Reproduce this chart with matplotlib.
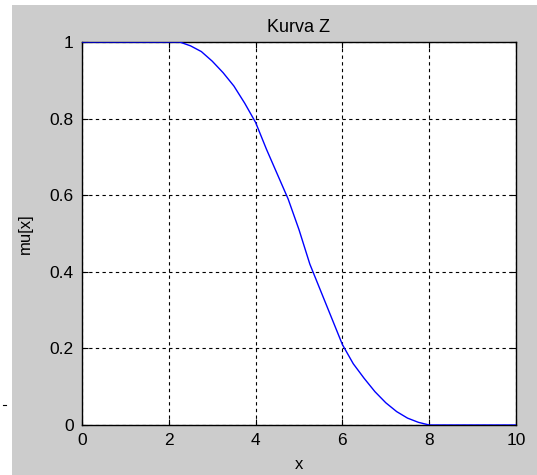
import matplotlib
matplotlib.use("Agg")
import matplotlib.pyplot as plt
from matplotlib.patches import Rectangle
from matplotlib.lines import Line2D

x_vals = [0, 2, 2.25, 2.5, 2.75, 3, 3.25, 3.5, 3.75, 4, 4.25, 4.5, 4.75, 5,
          5.25, 5.5, 5.75, 6, 6.25, 6.5, 6.75, 7, 7.25, 7.5, 7.75, 8, 10]
mu_vals = [1, 1, 1.0, 0.99, 0.975, 0.95, 0.92, 0.885, 0.84, 0.79, 0.72, 0.655,
           0.59, 0.51, 0.42, 0.35, 0.28, 0.21, 0.16, 0.122, 0.087, 0.058,
           0.035, 0.018, 0.007, 0, 0]
x_ticks = [0, 2, 4, 6, 8, 10]
y_ticks = [0, 0.2, 0.4, 0.6, 0.8, 1]
y_ticklabels = ["0", "0.2", "0.4", "0.6", "0.8", "1"]

W, H = 537, 475
fig = plt.figure(figsize=(W / 100, H / 100), dpi=100, facecolor="white")
fig.patches.append(Rectangle((12 / W, 0), 1 - 12 / W, 1 - 5 / H,
                             transform=fig.transFigure, facecolor="#cccccc",
                             edgecolor="none", zorder=-10))
fig.lines.append(Line2D([3 / W, 6 / W], [1 - 405 / H, 1 - 405 / H],
                        transform=fig.transFigure, color="black", lw=0.8))

ax = fig.add_axes([82 / W, 1 - 425 / H, 434 / W, 383 / H])
ax.set_zorder(1)
ax.set_facecolor("white")
ax.plot(x_vals, mu_vals, color="#0000ff", lw=1.0, zorder=3)
ax.set_xlim(0, 10)
ax.set_ylim(0, 1)
ax.set_xticks(x_ticks)
ax.set_yticks(y_ticks)
ax.set_yticklabels(y_ticklabels)
ax.grid(True, color="black", linestyle=(0, (3, 3)), lw=0.8)
ax.tick_params(direction="in", length=4, top=True, right=True,
               labelsize=12.5, colors="black", pad=6)
for s in ax.spines.values():
    s.set_linewidth(1.0)
font = "Liberation Sans"
for lab in ax.get_xticklabels() + ax.get_yticklabels():
    lab.set_fontfamily(font)
ax.set_title("Kurva Z", fontsize=13, fontfamily=font, pad=7)
ax.set_xlabel("x", fontsize=12, fontfamily=font, labelpad=6)
ax.set_ylabel("mu[x]", fontsize=12, fontfamily=font, labelpad=12)

fig.savefig("out.png", dpi=100, facecolor=fig.get_facecolor())
